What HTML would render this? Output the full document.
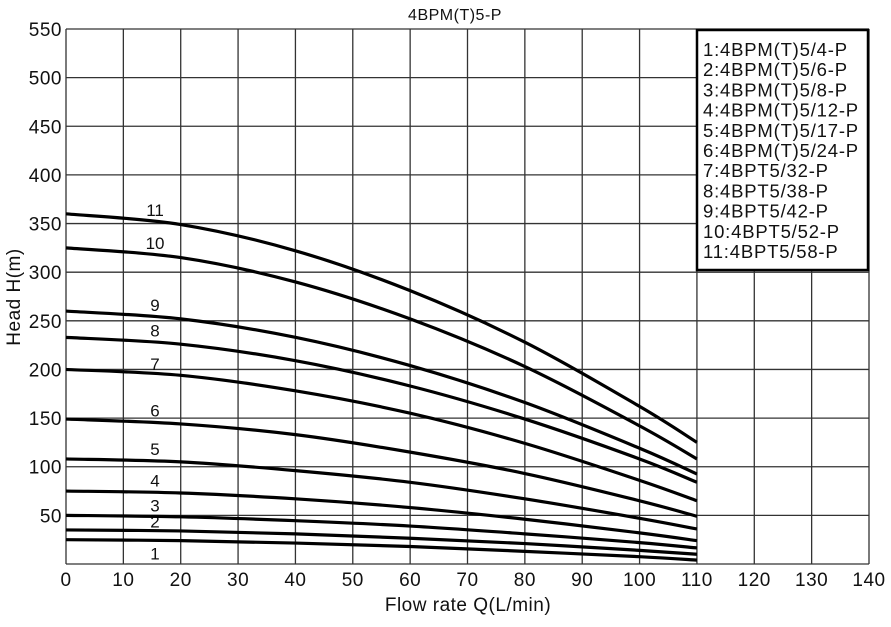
<!DOCTYPE html>
<html><head><meta charset="utf-8"><style>
body{margin:0;background:#fff;}
svg text{font-family:"Liberation Sans",Arial,sans-serif;fill:#111;}
</style></head><body>
<svg id="chart" width="891" height="622" viewBox="0 0 891 622" xmlns="http://www.w3.org/2000/svg">
<text x="455" y="20" font-size="16" text-anchor="middle" letter-spacing="0.5">4BPM(T)5-P</text>
<g id="grid"></g>
<g id="curves"></g>
<g id="legend"></g>
<text transform="translate(20,297) rotate(-90)" font-size="19" text-anchor="middle" letter-spacing="0.5">Head H(m)</text>
<text x="468" y="611" font-size="19" text-anchor="middle" letter-spacing="0.5">Flow rate Q(L/min)</text>
</svg>
<script>
const xTicks=[0,10,20,30,40,50,60,70,80,90,100,110,120,130,140];
const yTicks=[50,100,150,200,250,300,350,400,450,500,550];
const flow=[0,20,40,60,80,100,110];
const s1=[25,24,21.5,18,13,7.5,4];
const s2=[35,34,31,26.5,21,14,10];
const s3=[50,48.5,44.5,39,31,22,16.5];
const s4=[75,73,67,58,46,32,24];
const s5=[108,105,96,84,67,47,36];
const s6=[149,144,133,115,93,65,49];
const s7=[200,194,178,155,124,86,65];
const s8=[233,226,209,183,149,108,84];
const s9=[260,252,233,204,166,119,92.5];
const s10=[325,315,290,252,203,142,108];
const s11=[360,349,322,281,228,162,125];
const seriesNames=["1","2","3","4","5","6","7","8","9","10","11"];
const legendLabels=["1:4BPM(T)5/4-P","2:4BPM(T)5/6-P","3:4BPM(T)5/8-P","4:4BPM(T)5/12-P","5:4BPM(T)5/17-P","6:4BPM(T)5/24-P","7:4BPT5/32-P","8:4BPT5/38-P","9:4BPT5/42-P","10:4BPT5/52-P","11:4BPT5/58-P"];
const labelX=15;

const NS="http://www.w3.org/2000/svg";
const X0=66,X1=869,Y0=564,Y1=29;
const labelDy=[19,-3,-5,-6,-6,-6,-4,-6,-6,-6,-6];
const xs=v=>X0+(v-0)/(140-0)*(X1-X0);
const ys=v=>Y0-(v-0)/(550-0)*(Y0-Y1);
function mk(tag,attrs,parent){const e=document.createElementNS(NS,tag);for(const k in attrs)e.setAttribute(k,attrs[k]);parent.appendChild(e);return e;}
const grid=document.getElementById('grid');
xTicks.forEach(t=>{
  const l=mk('line',{x1:xs(t),x2:xs(t),y1:Y1,y2:Y0,stroke:'#333','stroke-width':1.3},grid);
  
  
  const tx=mk('text',{x:xs(t),y:Y0+22,'font-size':19,'text-anchor':'middle','letter-spacing':'0.5'},grid);
  tx.textContent=t;
  
  
});
mk('line',{x1:X0,x2:X1,y1:Y0,y2:Y0,stroke:'#333','stroke-width':1.3},grid);
yTicks.forEach(t=>{
  const l=mk('line',{x1:X0,x2:X1,y1:ys(t),y2:ys(t),stroke:'#333','stroke-width':1.3},grid);
  
  
  const tx=mk('text',{x:X0-4,y:ys(t)+7,'font-size':19,'text-anchor':'end','letter-spacing':'0.5'},grid);
  tx.textContent=t;
  
  
});
const all=[s1,s2,s3,s4,s5,s6,s7,s8,s9,s10,s11];
const curves=document.getElementById('curves');
function interp(arr,x){for(let i=0;i<flow.length-1;i++){if(x<=flow[i+1]){const f=(x-flow[i])/(flow[i+1]-flow[i]);return arr[i]+f*(arr[i+1]-arr[i]);}}return arr[arr.length-1];}
all.forEach((arr,si)=>{
  const p=flow.map((f,i)=>[xs(f),ys(arr[i])]);
  let d='M'+p[0][0]+','+p[0][1];
  for(let i=0;i<p.length-1;i++){
    const a=p[Math.max(0,i-1)],b=p[i],c=p[i+1],e=p[Math.min(p.length-1,i+2)];
    const c1=[b[0]+(c[0]-a[0])/6,b[1]+(c[1]-a[1])/6];
    const c2=[c[0]-(e[0]-b[0])/6,c[1]-(e[1]-b[1])/6];
    d+=' C'+c1[0]+','+c1[1]+' '+c2[0]+','+c2[1]+' '+c[0]+','+c[1];
  }
  const path=mk('path',{d:d,fill:'none',stroke:'#000','stroke-width':3.2},curves);
  
  
  const lt=mk('text',{x:xs(labelX)+3,y:ys(interp(arr,labelX))+labelDy[si],'font-size':17,'text-anchor':'middle'},curves);
  lt.textContent=seriesNames[si];
  
  
});
const leg=document.getElementById('legend');
const box=mk('rect',{x:697,y:30,width:171,height:240,fill:'#fff',stroke:'#000','stroke-width':2.5},leg);


legendLabels.forEach((t,i)=>{
  const tx=mk('text',{x:703,y:56+i*20.2,'font-size':18.5,'letter-spacing':'0.8'},leg);
  tx.textContent=t;
  
  
});
</script>
</body></html>
